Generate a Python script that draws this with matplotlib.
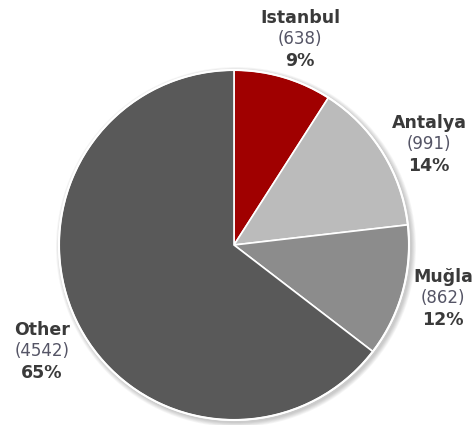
import matplotlib.pyplot as plt
from matplotlib.patches import Circle

# city share of listings
cities = ['Istanbul', 'Antalya', 'Muğla', 'Other']
counts = [638, 991, 862, 4542]
colors = ['#a00000', '#bbbbbb', '#8c8c8c', '#595959']

W, H = 473, 425
cx, cy, r = 234, H - 245, 175

fig = plt.figure(figsize=(W / 100, H / 100), dpi=100)
ax = fig.add_axes([0, 0, 1, 1])

# soft drop shadow under the pie
for k in range(6):
    ax.add_patch(Circle((cx + 2, cy - 2), r + 1 + k * 0.8, color='black',
                        alpha=0.035, lw=0, zorder=0))

ax.pie(counts, colors=colors, startangle=90, counterclock=False,
       center=(cx, cy), radius=r, frame=True,
       wedgeprops=dict(edgecolor='white', linewidth=1.2))
ax.add_patch(Circle((cx, cy), r, fill=False, edgecolor='white', lw=1.5, zorder=5))
ax.set_xlim(0, W)
ax.set_ylim(0, H)
ax.set_aspect('equal')
ax.axis('off')

total = sum(counts)
label_pos = {
    'Istanbul': (300, 18),
    'Antalya': (429, 123),
    'Muğla': (443, 277),
    'Other': (42, 330),
}
for name, n in zip(cities, counts):
    x, y = label_pos[name]
    pct = round(100 * n / total)
    ax.text(x, H - y, name, ha='center', va='center', fontsize=12.5,
            fontweight='bold', color='#3a3a3a')
    ax.text(x, H - y - 21, f'({n})', ha='center', va='center', fontsize=12,
            color='#555566')
    ax.text(x, H - y - 43, f'{pct}%', ha='center', va='center', fontsize=12.5,
            fontweight='bold', color='#3a3a3a')

fig.savefig('out.png', dpi=100)
